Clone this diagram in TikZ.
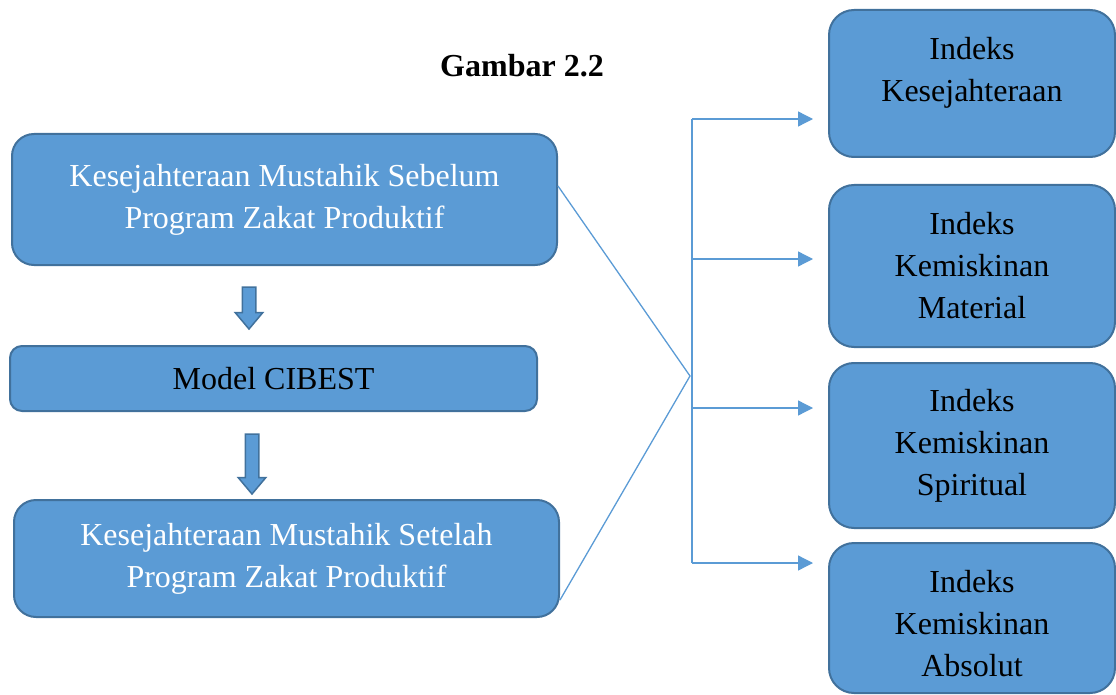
\documentclass[tikz,border=0pt]{standalone}
\usepackage{fontspec}
\setmainfont{Liberation Serif}
\usetikzlibrary{positioning, arrows.meta, shapes.arrows}
\definecolor{boxblue}{HTML}{5B9BD5}
\definecolor{boxedge}{HTML}{41719C}
\tikzset{
panel/.style={shape=rectangle, rounded corners=22pt, draw=boxedge, line width=2pt, fill=boxblue, inner sep=0, align=center, font=\fontsize{32}{42}\selectfont}, boxtext/.style={align=center, inner sep=0, font=\fontsize{32}{42}\selectfont},
push/.style={single arrow, shape border rotate=270, draw=boxedge, line width=1.5pt, fill=boxblue, minimum width=26pt, inner sep=6pt, single arrow head extend=7pt, single arrow tip angle=80}, link/.style={draw=boxblue, line width=1.3pt}}

\begin{document}
\begin{tikzpicture}[x=1pt, y=-1pt]
\useasboundingbox (0,0) rectangle (1116,695);
\node [font=\bfseries\fontsize{32}{42}\selectfont] (title) at (522, 66) {Gambar 2.2};
\node [panel, text=white, minimum width=545pt, minimum height=131pt] (boxA) at (284.5, 199.5) {Kesejahteraan Mustahik Sebelum\\Program Zakat Produktif};
\node [panel, rounded corners=12pt, minimum width=527pt, minimum height=65pt] (boxB) at (273.5, 378.5) {Model CIBEST};
\node [panel, text=white, minimum width=545pt, minimum height=117pt] (boxC) at (286.5, 558.5) {Kesejahteraan Mustahik Setelah\\Program Zakat Produktif};
\node [push, minimum height=42pt] (push-1) at (249, 304) {};
\node [push, minimum height=60pt] (push-2) at (252, 460) {};
\foreach \txt/\cy/\h/\lift/\ay [count=\i] in {{Indeks\\Kesejahteraan}/83.5/147/11/119, {Indeks\\Kemiskinan\\Material}/266/162/0/259, {Indeks\\Kemiskinan\\Spiritual}/445.5/165/0/408, {Indeks\\Kemiskinan\\Absolut}/618/150/-6/563}{
      \node [panel, rounded corners=25pt, minimum width=286pt, minimum height=\h] (r\i) at (972, \cy) {};
      \node [boxtext] (r\i-txt) at ([yshift=\lift pt]r\i.center) {\txt};
      \coordinate (bar-\i) at (692, \ay);
      \draw [link, -{Triangle[length=15pt, width=15pt]}, shorten >=15pt] (bar-\i) -- (bar-\i -| r\i.west);
}
\draw [link] (bar-1) -- (bar-4);
\coordinate (hub) at (690, 376);
\draw [link] ([yshift=13.5pt]boxA.east) -- (hub) -- ([yshift=-41.5pt]boxC.east);
\end{tikzpicture}
\end{document}
